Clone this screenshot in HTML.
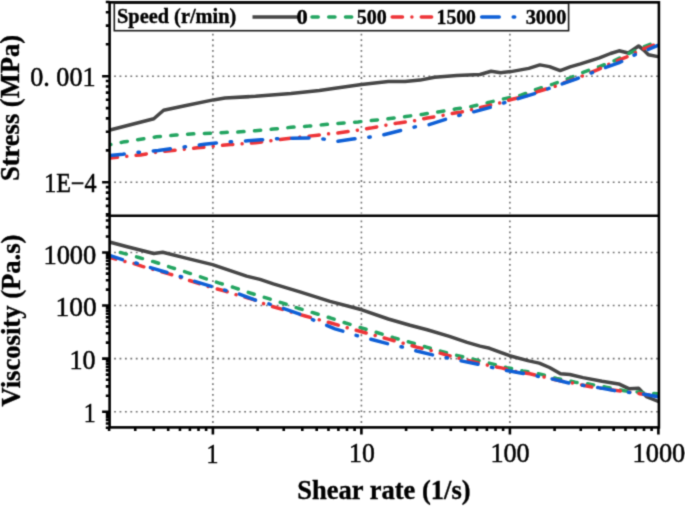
<!DOCTYPE html><html><head><meta charset="utf-8"><style>html,body{margin:0;padding:0;background:#fff;}svg{display:block}text{font-family:"Liberation Serif",serif;}</style></head><body>
<svg width="685" height="507" viewBox="0 0 685 507">
<rect width="685" height="507" fill="#fff"/>
<filter id="bl" x="0" y="0" width="685" height="507" filterUnits="userSpaceOnUse" color-interpolation-filters="sRGB"><feConvolveMatrix order="3" kernelMatrix="1 4 1 4 16 4 1 4 1" edgeMode="duplicate"/></filter>
<g filter="url(#bl)">
<rect width="685" height="507" fill="#fff"/>
<line x1="212.90" y1="427.4" x2="212.90" y2="215.8" stroke="#707070" stroke-width="1.6" stroke-dasharray="1.8 3.62" stroke-dashoffset="0.9"/>
<line x1="212.90" y1="213.5" x2="212.90" y2="2.35" stroke="#707070" stroke-width="1.6" stroke-dasharray="1.8 3.62" stroke-dashoffset="0.9"/>
<line x1="361.40" y1="427.4" x2="361.40" y2="215.8" stroke="#707070" stroke-width="1.6" stroke-dasharray="1.8 3.62" stroke-dashoffset="0.9"/>
<line x1="361.40" y1="213.5" x2="361.40" y2="2.35" stroke="#707070" stroke-width="1.6" stroke-dasharray="1.8 3.62" stroke-dashoffset="0.9"/>
<line x1="509.90" y1="427.4" x2="509.90" y2="215.8" stroke="#707070" stroke-width="1.6" stroke-dasharray="1.8 3.62" stroke-dashoffset="0.9"/>
<line x1="509.90" y1="213.5" x2="509.90" y2="2.35" stroke="#707070" stroke-width="1.6" stroke-dasharray="1.8 3.62" stroke-dashoffset="0.9"/>
<line x1="109.6" y1="76.20" x2="658.9" y2="76.20" stroke="#707070" stroke-width="1.6" stroke-dasharray="1.8 3.62" stroke-dashoffset="0.9"/>
<line x1="109.6" y1="182.30" x2="658.9" y2="182.30" stroke="#707070" stroke-width="1.6" stroke-dasharray="1.8 3.62" stroke-dashoffset="0.9"/>
<line x1="109.6" y1="252.49" x2="658.9" y2="252.49" stroke="#707070" stroke-width="1.6" stroke-dasharray="1.8 3.62" stroke-dashoffset="0.9"/>
<line x1="109.6" y1="305.56" x2="658.9" y2="305.56" stroke="#707070" stroke-width="1.6" stroke-dasharray="1.8 3.62" stroke-dashoffset="0.9"/>
<line x1="109.6" y1="358.63" x2="658.9" y2="358.63" stroke="#707070" stroke-width="1.6" stroke-dasharray="1.8 3.62" stroke-dashoffset="0.9"/>
<line x1="109.6" y1="411.70" x2="658.9" y2="411.70" stroke="#707070" stroke-width="1.6" stroke-dasharray="1.8 3.62" stroke-dashoffset="0.9"/>
<clipPath id="cp"><rect x="109.6" y="2.35" width="549.3" height="425.04999999999995"/></clipPath>
<g clip-path="url(#cp)" fill="none" stroke-linejoin="round" stroke-linecap="round">
<polyline points="110.0,130.0 153.8,118.8 163.6,110.2 184.9,105.7 213.3,99.9 225.0,98.1 255.5,96.3 291.0,93.4 319.4,90.4 335.0,88.2 361.6,84.6 388.3,81.6 405.0,81.6 420.0,80.1 434.6,77.2 456.8,75.5 480.0,74.5 491.1,71.3 500.7,72.7 511.0,71.6 528.8,68.4 539.9,64.9 549.5,66.6 560.2,70.6 570.1,66.9 580.5,63.9 599.5,57.9 610.5,53.5 619.1,50.8 628.3,53.0 638.6,46.0 643.7,50.0 648.4,54.7 657.9,56.6" stroke="#464646" stroke-width="3.5"/>
<polyline points="110.0,144.8 122.8,142.1 156.5,136.8 176.0,135.0 193.8,133.8 211.5,133.3 225.0,132.4 237.8,132.1 255.5,130.7 273.3,129.1 291.0,127.3 308.8,126.1 323.0,124.7 335.0,123.6 358.1,121.9 374.0,120.3 390.0,118.5 406.0,116.5 422.0,114.4 439.7,111.7 455.0,109.1 469.5,106.9 487.3,102.8 503.3,98.9 521.0,95.2 537.0,89.1 553.0,84.1 569.5,78.1 583.7,72.1 599.5,66.6 613.7,61.1 629.5,53.2 643.7,46.8 657.9,41.3" stroke="#24a561" stroke-width="3.5" stroke-dasharray="6.2 10.55" stroke-dashoffset="5.34"/>
<polyline points="110.0,158.1 140.5,154.9 158.3,151.9 176.0,150.1 197.3,147.8 222.2,145.3 230.7,144.6 255.5,142.8 282.0,139.2 300.0,137.1 317.6,135.2 327.6,133.9 337.2,133.0 356.3,130.4 370.5,128.1 384.7,125.4 398.9,122.9 413.1,121.0 427.3,118.0 441.5,115.7 455.0,113.0 460.7,112.2 480.2,107.6 498.8,103.2 512.1,99.2 524.6,96.6 538.8,91.2 554.7,86.5 570.0,80.6 582.1,76.1 597.9,69.7 612.1,62.6 626.3,57.1 643.7,48.7 657.9,43.7" stroke="#ee3438" stroke-width="3.5" stroke-dasharray="10.3 9.35 0.01 9.35" stroke-dashoffset="2.75"/>
<polyline points="110.0,155.4 122.8,154.2 137.0,152.4 158.3,150.5 168.9,148.9 183.1,147.1 204.4,144.3 216.8,143.0 228.9,141.9 244.9,141.0 260.8,139.8 276.8,138.7 291.0,138.3 308.8,138.0 323.0,138.9 337.2,141.3 352.8,139.1 368.7,137.3 382.0,135.2 401.6,130.2 414.5,127.0 427.3,125.2 446.0,119.2 458.0,115.7 473.1,112.0 490.8,107.2 503.3,103.1 517.5,98.9 535.2,93.4 547.6,88.9 561.8,84.1 575.8,79.2 591.6,72.9 605.8,67.4 620.0,62.3 634.2,55.1 645.3,50.8 657.9,45.3" stroke="#0e5fd6" stroke-width="3.5" stroke-dasharray="17.2 13.9 1.4 13.9" stroke-dashoffset="2.89"/>
<polyline points="110.3,242.3 127.2,246.8 153.8,253.5 162.7,252.2 185.0,257.9 212.5,264.6 246.6,276.1 260.0,279.4 273.3,283.8 299.9,291.9 330.0,301.4 361.8,309.8 388.3,319.0 410.0,325.3 427.2,329.8 449.4,336.4 467.1,342.4 480.0,346.1 489.6,348.3 509.6,355.7 528.8,360.9 539.2,363.1 549.5,367.5 560.5,373.8 569.8,374.5 583.0,377.6 602.0,381.3 618.7,383.9 628.8,388.7 638.6,388.2 646.5,396.6 658.3,401.5" stroke="#464646" stroke-width="3.5"/>
<polyline points="110.3,249.9 122.8,253.1 138.7,257.5 154.7,262.0 170.7,267.3 186.7,272.3 202.6,277.6 218.6,282.9 234.2,287.6 250.2,293.0 266.2,297.9 282.1,302.9 298.1,308.2 314.1,313.0 330.1,317.8 345.7,323.0 361.6,327.9 377.6,332.7 393.6,337.7 409.6,342.1 426.4,347.1 441.5,351.4 455.0,355.0 473.1,359.1 489.1,363.1 506.8,367.6 522.8,370.9 540.5,374.1 556.5,378.5 575.3,382.2 587.6,383.8 606.0,387.1 624.4,390.7 636.6,391.9 645.8,393.0 657.9,393.7" stroke="#24a561" stroke-width="3.5" stroke-dasharray="6.2 10.55" stroke-dashoffset="6.36"/>
<polyline points="110.3,257.5 122.8,261.1 133.4,263.4 142.3,266.4 170.7,274.4 188.4,280.1 208.0,286.5 225.0,291.0 235.1,294.4 255.5,300.1 262.6,303.3 273.3,306.8 305.2,316.0 318.5,319.6 330.1,322.8 346.5,327.6 361.6,331.8 375.0,335.4 388.3,339.1 402.5,343.0 416.7,347.1 430.9,350.5 445.1,354.6 458.9,358.2 473.1,361.7 488.2,365.3 501.5,367.9 515.7,371.5 529.9,373.8 545.0,377.2 560.1,380.9 573.8,383.3 590.7,386.8 606.0,389.1 621.3,391.0 639.7,393.7 657.9,396.0" stroke="#ee3438" stroke-width="3.5" stroke-dasharray="10.3 9.35 0.01 9.35" stroke-dashoffset="4.48"/>
<polyline points="110.3,255.7 122.8,259.8 135.2,262.8 149.4,267.3 167.1,272.6 180.4,276.5 193.8,281.0 211.5,286.5 225.0,290.2 237.8,293.5 255.5,300.1 267.9,303.6 283.9,308.6 299.9,314.3 312.3,319.6 324.7,324.6 335.0,328.8 343.9,331.5 356.3,335.4 370.5,339.1 388.3,343.9 402.5,347.1 416.7,351.0 432.6,354.9 446.8,357.8 460.7,360.8 478.4,364.4 492.6,367.6 506.8,370.6 524.6,373.6 538.8,376.5 553.0,379.1 570.0,383.3 583.0,385.3 598.3,387.6 616.7,391.0 630.5,392.5 645.8,394.5 657.9,396.8" stroke="#0e5fd6" stroke-width="3.5" stroke-dasharray="17.2 13.9 1.4 13.9" stroke-dashoffset="4.49"/>
</g>
<g stroke="#000" stroke-width="2.6" fill="none">
<rect x="109.6" y="2.35" width="549.3" height="425.04999999999995"/>
<line x1="109.6" y1="215.8" x2="658.9" y2="215.8"/>
</g>
<path d="M109.10,427.4v3.5 M135.25,427.4v3.5 M153.81,427.4v3.5 M168.20,427.4v3.5 M179.96,427.4v3.5 M189.90,427.4v3.5 M198.51,427.4v3.5 M206.11,427.4v3.5 M212.90,427.4v7 M257.60,427.4v3.5 M283.75,427.4v3.5 M302.31,427.4v3.5 M316.70,427.4v3.5 M328.46,427.4v3.5 M338.40,427.4v3.5 M347.01,427.4v3.5 M354.61,427.4v3.5 M361.40,427.4v7 M406.10,427.4v3.5 M432.25,427.4v3.5 M450.81,427.4v3.5 M465.20,427.4v3.5 M476.96,427.4v3.5 M486.90,427.4v3.5 M495.51,427.4v3.5 M503.11,427.4v3.5 M509.90,427.4v7 M554.60,427.4v3.5 M580.75,427.4v3.5 M599.31,427.4v3.5 M613.70,427.4v3.5 M625.46,427.4v3.5 M635.40,427.4v3.5 M644.01,427.4v3.5 M651.61,427.4v3.5 M658.40,427.4v7 M109.6,214.24h-3.8 M109.6,205.84h-3.8 M109.6,198.74h-3.8 M109.6,192.58h-3.8 M109.6,187.15h-3.8 M109.6,182.30h-7.5 M109.6,150.36h-3.8 M109.6,131.68h-3.8 M109.6,118.42h-3.8 M109.6,108.14h-3.8 M109.6,99.74h-3.8 M109.6,92.64h-3.8 M109.6,86.48h-3.8 M109.6,81.05h-3.8 M109.6,76.20h-7.5 M109.6,44.26h-3.8 M109.6,25.58h-3.8 M109.6,12.32h-3.8 M109.6,2.04h-3.8 M109.6,427.68h-3.8 M109.6,423.47h-3.8 M109.6,419.92h-3.8 M109.6,416.84h-3.8 M109.6,414.13h-3.8 M109.6,411.70h-7.5 M109.6,395.72h-3.8 M109.6,386.38h-3.8 M109.6,379.75h-3.8 M109.6,374.61h-3.8 M109.6,370.40h-3.8 M109.6,366.85h-3.8 M109.6,363.77h-3.8 M109.6,361.06h-3.8 M109.6,358.63h-7.5 M109.6,342.65h-3.8 M109.6,333.31h-3.8 M109.6,326.68h-3.8 M109.6,321.54h-3.8 M109.6,317.33h-3.8 M109.6,313.78h-3.8 M109.6,310.70h-3.8 M109.6,307.99h-3.8 M109.6,305.56h-7.5 M109.6,289.58h-3.8 M109.6,280.24h-3.8 M109.6,273.61h-3.8 M109.6,268.47h-3.8 M109.6,264.26h-3.8 M109.6,260.71h-3.8 M109.6,257.63h-3.8 M109.6,254.92h-3.8 M109.6,252.49h-7.5 M109.6,236.51h-3.8 M109.6,227.17h-3.8 M109.6,220.54h-3.8 M109.6,215.40h-3.8" stroke="#000" stroke-width="2.6" fill="none"/>
<text x="30.2" y="86.3" font-size="27" textLength="65.42" lengthAdjust="spacingAndGlyphs" stroke="#000" stroke-width="0.5">0. 001</text>
<text x="44.15" y="192.35" font-size="27" textLength="52.32" lengthAdjust="spacingAndGlyphs" stroke="#000" stroke-width="0.5">1E−4</text>
<text x="43.4" y="263.7" font-size="27" textLength="52.94" lengthAdjust="spacingAndGlyphs" stroke="#000" stroke-width="0.5">1000</text>
<text x="55.5" y="315.9" font-size="27" textLength="41.09" lengthAdjust="spacingAndGlyphs" stroke="#000" stroke-width="0.5">100</text>
<text x="69.55" y="369.4" font-size="27" textLength="26.09" lengthAdjust="spacingAndGlyphs" stroke="#000" stroke-width="0.5">10</text>
<text x="83.65" y="422.05" font-size="27" textLength="11.91" lengthAdjust="spacingAndGlyphs" stroke="#000" stroke-width="0.5">1</text>
<text x="206.45" y="462.55" font-size="27" textLength="11.92" lengthAdjust="spacingAndGlyphs" stroke="#000" stroke-width="0.5">1</text>
<text x="349.1" y="462.2" font-size="27" textLength="25.73" lengthAdjust="spacingAndGlyphs" stroke="#000" stroke-width="0.5">10</text>
<text x="490.45" y="462.25" font-size="27" textLength="39.23" lengthAdjust="spacingAndGlyphs" stroke="#000" stroke-width="0.5">100</text>
<text x="632.55" y="462.3" font-size="27" textLength="52.74" lengthAdjust="spacingAndGlyphs" stroke="#000" stroke-width="0.5">1000</text>
<text x="297.3" y="498.95" font-size="27.5" font-weight="bold" textLength="173.27" lengthAdjust="spacingAndGlyphs" stroke="#000" stroke-width="0.35">Shear rate (1/s)</text>
<text transform="translate(19.2,181.05) rotate(-90)" font-size="27" font-weight="bold" textLength="146.08" lengthAdjust="spacingAndGlyphs" stroke="#000" stroke-width="0.35">Stress (MPa)</text>
<text transform="translate(19.9,406.6) rotate(-90)" font-size="27" font-weight="bold" textLength="172.07" lengthAdjust="spacingAndGlyphs" stroke="#000" stroke-width="0.35">Viscosity (Pa.s)</text>
<rect x="114.3" y="3.2" width="454.3" height="27.5" fill="#fff" stroke="#1a1a1a" stroke-width="1.6"/>
<text x="117.0" y="23.1" font-size="20" font-weight="bold" textLength="119.28" lengthAdjust="spacingAndGlyphs" stroke="#000" stroke-width="0.35">Speed (r/min)</text>
<line x1="252.5" y1="16.9" x2="298" y2="16.9" stroke="#464646" stroke-width="3.5"/>
<text x="296.55" y="24.25" font-size="20" font-weight="bold" textLength="11.27" lengthAdjust="spacingAndGlyphs" stroke="#000" stroke-width="0.35">0</text>
<line x1="312" y1="16.9" x2="354" y2="16.9" stroke="#24a561" stroke-width="3.5" stroke-linecap="round" stroke-dasharray="6.2 10.55"/>
<text x="356.65" y="24.25" font-size="20" font-weight="bold" textLength="30.04" lengthAdjust="spacingAndGlyphs" stroke="#000" stroke-width="0.35">500</text>
<line x1="392.2" y1="16.9" x2="434" y2="16.9" stroke="#ee3438" stroke-width="3.5" stroke-linecap="round" stroke-dasharray="10.3 9.4 0.01 9.4"/>
<text x="436.55" y="24.25" font-size="20" font-weight="bold" textLength="39.38" lengthAdjust="spacingAndGlyphs" stroke="#000" stroke-width="0.35">1500</text>
<line x1="481.7" y1="16.9" x2="522" y2="16.9" stroke="#0e5fd6" stroke-width="3.5" stroke-linecap="round" stroke-dasharray="17.5 14 1.5 14"/>
<text x="525.65" y="24.25" font-size="20" font-weight="bold" textLength="40.67" lengthAdjust="spacingAndGlyphs" stroke="#000" stroke-width="0.35">3000</text>
</g>
</svg></body></html>
